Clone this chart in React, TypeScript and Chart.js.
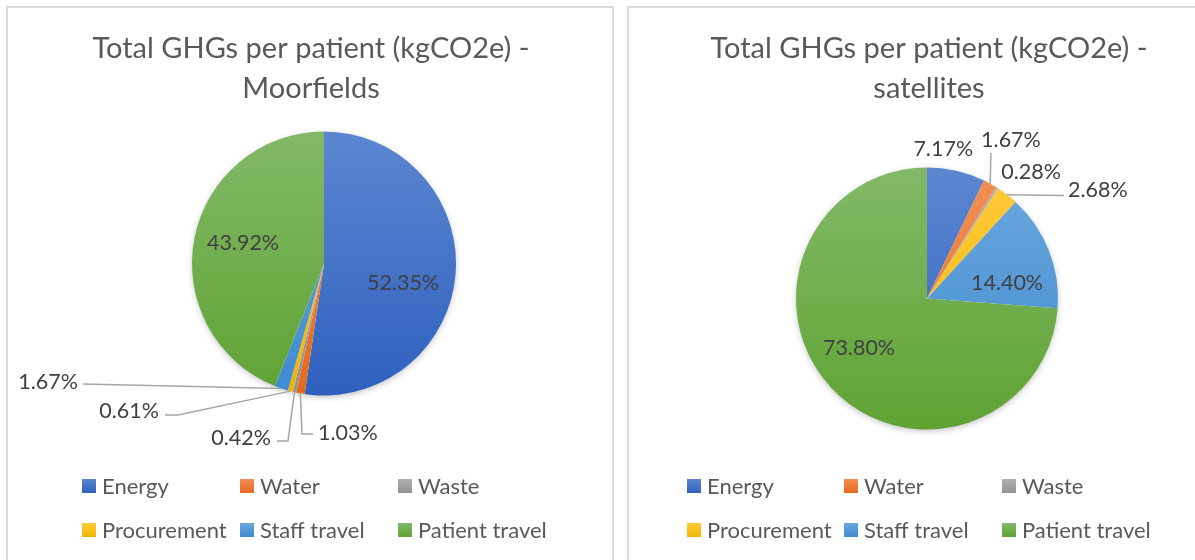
import React, { useEffect, useRef } from "react";
import { Chart, registerables } from "chart.js";

Chart.register(...registerables);

const categories = ["Energy", "Water", "Waste", "Procurement", "Staff travel", "Patient travel"];
const moorfieldsValues = [52.35, 1.03, 0.42, 0.61, 1.67, 43.92];
const satellitesValues = [7.17, 1.67, 0.28, 2.68, 14.4, 73.8];
const moorfieldsTitle = ["Total GHGs per patient (kgCO2e) -", "Moorfields"];
const satellitesTitle = ["Total GHGs per patient (kgCO2e) -", "satellites"];

const colorsLight = ["#5C86D0", "#F28F55", "#B0B0B0", "#FFCB3C", "#6CA7DD", "#82B968"];
const colorsDark = ["#2E61BE", "#E5691C", "#939393", "#F0B400", "#3E8BD0", "#5FA333"];

const FONT = "Lato, 'Open Sans', 'DejaVu Sans', sans-serif";

type LabelLayout = {
  from: "center" | "edge";
  dx: number;
  dy: number;
  align: CanvasTextAlign;
  leader?: [number, number][];
};

type PanelCfg = {
  values: number[];
  title: string[];
  titleX: number;
  center: [number, number];
  radius: number;
  legendX: number[];
  labels: LabelLayout[];
};

const leftCfg: PanelCfg = {
  values: moorfieldsValues,
  title: moorfieldsTitle,
  titleX: 311,
  center: [324, 263.5],
  radius: 132,
  legendX: [82, 240, 398],
  labels: [
    { from: "center", dx: 79, dy: 19.5, align: "center" },
    { from: "edge", dx: 17.6, dy: 39.6, align: "left", leader: [[1.6, 40.6], [12.6, 40.6]] },
    { from: "edge", dx: -23.5, dy: 45.8, align: "right", leader: [[-6.5, 48.8], [-17.5, 48.8]] },
    { from: "edge", dx: -131.3, dy: 19.9, align: "right", leader: [[-112.3, 23.9], [-125.3, 23.9]] },
    { from: "edge", dx: -203.3, dy: -6.4, align: "right", leader: [[-198.3, -4.4]] },
    { from: "center", dx: -81, dy: -20.5, align: "center" },
  ],
};

const rightCfg: PanelCfg = {
  values: satellitesValues,
  title: satellitesTitle,
  titleX: 929,
  center: [927, 298.5],
  radius: 131,
  legendX: [687, 844, 1002],
  labels: [
    { from: "edge", dx: -13, dy: -22, align: "center" },
    { from: "edge", dx: 20.8, dy: -43.7, align: "center", leader: [[0.8, -30.7]] },
    { from: "edge", dx: 34, dy: -15.8, align: "center" },
    { from: "edge", dx: 61, dy: -4.8, align: "left", leader: [[57, 0.7]] },
    { from: "center", dx: 80, dy: -15.5, align: "center" },
    { from: "center", dx: -68, dy: 49.5, align: "center" },
  ],
};

const W = 1195;
const H = 560;

function makeDecor(cfg: PanelCfg) {
  return {
    id: "decor",
    beforeDatasetsDraw(chart: any) {
      const ctx = chart.ctx;
      const [cx, cy] = cfg.center;
      ctx.save();
      ctx.shadowColor = "rgba(0,0,0,0.28)";
      ctx.shadowBlur = 7;
      ctx.shadowOffsetY = 2;
      ctx.beginPath();
      ctx.arc(cx, cy, cfg.radius - 1, 0, Math.PI * 2);
      ctx.fillStyle = "#ffffff";
      ctx.fill();
      ctx.restore();
    },
    afterDraw(chart: any) {
      const ctx = chart.ctx;
      ctx.save();
      // title
      ctx.fillStyle = "#595959";
      ctx.font = `29px ${FONT}`;
      ctx.textAlign = "center";
      ctx.textBaseline = "alphabetic";
      cfg.title.forEach((line, i) => ctx.fillText(line, cfg.titleX, 58 + i * 40));

      // data labels
      const meta = chart.getDatasetMeta(0);
      ctx.font = `21.5px ${FONT}`;
      ctx.textBaseline = "middle";
      meta.data.forEach((arc: any, i: number) => {
        const p = arc.getProps(["x", "y", "startAngle", "endAngle", "outerRadius"], true);
        const mid = (p.startAngle + p.endAngle) / 2;
        const ax = p.x + Math.cos(mid) * p.outerRadius;
        const ay = p.y + Math.sin(mid) * p.outerRadius;
        const lay = cfg.labels[i];
        const bx = lay.from === "center" ? p.x : ax;
        const by = lay.from === "center" ? p.y : ay;
        if (lay.leader) {
          ctx.strokeStyle = "#A6A6A6";
          ctx.lineWidth = 1.5;
          ctx.beginPath();
          ctx.moveTo(ax, ay);
          lay.leader.forEach(([lx, ly]) => ctx.lineTo(ax + lx, ay + ly));
          ctx.stroke();
        }
        ctx.fillStyle = "#404040";
        ctx.textAlign = lay.align;
        const v = chart.data.datasets[0].data[i] as number;
        ctx.fillText(v.toFixed(2) + "%", bx + lay.dx, by + lay.dy);
      });

      // legend
      ctx.font = `22px ${FONT}`;
      ctx.textAlign = "left";
      ctx.textBaseline = "alphabetic";
      categories.forEach((name, i) => {
        const col = i % 3;
        const row = Math.floor(i / 3);
        const x = cfg.legendX[col];
        const y = 479 + row * 44;
        const g = ctx.createLinearGradient(0, y, 0, y + 14);
        g.addColorStop(0, colorsLight[i]);
        g.addColorStop(1, colorsDark[i]);
        ctx.fillStyle = g;
        ctx.fillRect(x, y, 14, 14);
        ctx.fillStyle = "#595959";
        ctx.fillText(name, x + 20, y + 15);
      });
      ctx.restore();
    },
  };
}

function PiePanel({ cfg }: { cfg: PanelCfg }) {
  const ref = useRef<HTMLCanvasElement | null>(null);
  useEffect(() => {
    if (!ref.current) return;
    const [cx, cy] = cfg.center;
    const padLeft = cx - 200;
    const padRight = W - (cx + 200);
    const padTop = cy - 160;
    const padBottom = H - (cy + 160);
    const chart = new Chart(ref.current, {
      type: "pie",
      data: {
        labels: categories,
        datasets: [
          {
            data: cfg.values,
            borderWidth: 0,
            backgroundColor: (c: any) => {
              const area = c.chart.chartArea;
              const i = c.dataIndex ?? 0;
              if (!area) return colorsDark[i];
              const my = (area.top + area.bottom) / 2;
              const g = c.chart.ctx.createLinearGradient(0, my - cfg.radius, 0, my + cfg.radius);
              g.addColorStop(0, colorsLight[i]);
              g.addColorStop(1, colorsDark[i]);
              return g;
            },
          },
        ],
      },
      options: {
        responsive: false,
        animation: false,
        radius: cfg.radius,
        layout: { padding: { left: padLeft, right: padRight, top: padTop, bottom: padBottom } },
        plugins: {
          legend: { display: false },
          title: { display: false },
          tooltip: { enabled: false },
        },
      } as any,
      plugins: [makeDecor(cfg)],
    });
    return () => chart.destroy();
  }, [cfg]);
  return (
    <canvas
      ref={ref}
      width={W}
      height={H}
      style={{ position: "absolute", left: 0, top: 0, width: W, height: H }}
    />
  );
}

export default function App() {
  return (
    <div
      style={{
        position: "fixed",
        left: 0,
        top: 0,
        width: W,
        height: H,
        overflow: "hidden",
        background: "#ffffff",
      }}
    >
      <div
        style={{
          position: "absolute",
          left: 6,
          top: 6,
          width: 608,
          height: 600,
          border: "2px solid #DADADA",
          boxSizing: "border-box",
        }}
      />
      <div
        style={{
          position: "absolute",
          left: 627,
          top: 6,
          width: 620,
          height: 600,
          border: "2px solid #DADADA",
          boxSizing: "border-box",
        }}
      />
      <PiePanel cfg={leftCfg} />
      <PiePanel cfg={rightCfg} />
    </div>
  );
}
